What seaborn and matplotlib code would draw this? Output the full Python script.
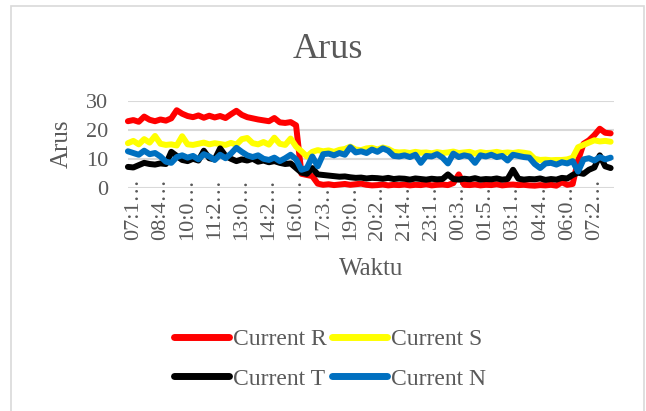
import numpy as np
import pandas as pd
import seaborn as sns
import matplotlib.pyplot as plt
from matplotlib.patches import Rectangle

# values (one sample every ~17 min, 07:15 -> 07:40 next day)
current_r = [23.0, 23.4, 22.8, 24.6, 23.5, 23.0, 23.6, 23.2, 24.0, 26.8,
             25.6, 24.8, 24.4, 25.0, 24.2, 24.9, 24.3, 24.8, 24.1, 25.4,
             26.6, 25.2, 24.4, 24.0, 23.6, 23.3, 23.0, 24.1, 22.6, 22.4,
             22.7, 21.6, 4.8, 4.4, 4.0, 1.4, 1.0, 1.2, 0.9, 1.1,
             1.3, 1.0, 1.2, 1.4, 1.0, 0.8, 0.9, 1.1, 0.8, 1.0,
             0.9, 1.1, 0.8, 1.0, 0.9, 1.2, 0.8, 1.0, 1.1, 0.9,
             1.6, 4.6, 1.0, 0.9, 1.1, 0.8, 1.0, 0.9, 1.2, 0.8,
             1.0, 1.1, 0.9, 1.0, 0.8, 0.7, 0.9, 0.8, 1.0, 0.7,
             1.9, 1.0, 1.3, 9.5, 15.2, 16.4, 18.2, 20.4, 19.0, 18.8]
current_s = [15.4, 16.2, 15.0, 16.8, 15.6, 17.9, 15.2, 14.8, 15.0, 14.6,
             17.8, 15.0, 14.8, 15.2, 15.6, 15.0, 15.4, 15.1, 14.8, 15.5,
             14.9, 16.8, 17.2, 15.4, 15.0, 15.8, 14.9, 17.3, 15.2, 14.8,
             17.0, 14.2, 12.6, 10.8, 12.4, 13.0, 12.6, 12.9, 12.4, 13.1,
             13.4, 14.2, 13.2, 13.0, 13.6, 13.8, 13.2, 13.9, 13.4, 12.4,
             12.2, 12.3, 12.0, 12.4, 12.1, 12.2, 11.9, 12.3, 12.0, 12.2,
             12.5, 12.0, 12.2, 12.4, 11.8, 12.3, 12.0, 12.1, 12.4, 12.0,
             12.2, 12.0, 12.3, 12.1, 11.8, 10.0, 9.6, 9.7, 9.5, 9.6,
             9.6, 9.8, 10.4, 14.0, 14.8, 15.6, 16.4, 16.0, 16.2, 15.9]
current_t = [7.2, 7.0, 7.8, 8.6, 8.2, 8.0, 8.4, 8.2, 12.4, 11.0,
             9.6, 9.2, 10.0, 9.4, 12.8, 10.2, 9.8, 13.6, 11.0, 10.0,
             9.2, 9.8, 9.4, 10.0, 9.0, 9.4, 8.8, 9.2, 8.6, 8.2,
             8.4, 6.8, 5.2, 4.8, 6.8, 4.6, 4.4, 4.2, 4.0, 3.8,
             3.9, 3.6, 3.4, 3.5, 3.2, 3.4, 3.3, 3.1, 3.4, 3.0,
             3.2, 3.1, 2.8, 3.2, 3.0, 2.8, 3.1, 2.9, 3.0, 4.6,
             3.0, 2.8, 3.1, 2.9, 3.3, 2.8, 3.0, 2.9, 3.2, 2.8,
             3.0, 6.2, 3.1, 2.8, 3.0, 2.9, 3.2, 2.7, 3.0, 2.8,
             3.4, 3.2, 4.4, 5.2, 4.8, 6.2, 7.0, 11.2, 7.4, 6.8]
current_n = [12.6, 12.0, 11.4, 12.8, 11.6, 12.0, 10.8, 9.0, 8.6, 10.6,
             11.2, 10.4, 11.0, 9.8, 11.6, 10.8, 9.6, 11.4, 10.2, 11.8,
             13.8, 12.4, 11.2, 10.6, 11.2, 10.0, 9.6, 10.4, 9.2, 10.2,
             11.4, 9.8, 6.2, 6.8, 10.8, 7.4, 11.6, 11.8, 11.2, 12.0,
             11.4, 14.0, 12.2, 12.6, 12.0, 13.2, 12.4, 13.6, 12.8, 11.0,
             10.8, 11.2, 10.6, 11.4, 8.6, 11.0, 10.8, 11.6, 10.4, 8.4,
             11.8, 10.6, 11.2, 10.8, 8.6, 11.2, 10.8, 11.4, 10.6, 11.0,
             9.4, 11.4, 11.0, 10.6, 10.4, 8.2, 6.8, 8.4, 8.6, 8.0,
             8.8, 8.4, 9.2, 5.6, 9.8, 10.2, 9.4, 10.6, 9.8, 10.4]

tick_labels = ["07:1…", "08:4…", "10:0…", "11:2…", "13:0…", "14:2…",
               "16:0…", "17:3…", "19:0…", "20:2…", "21:4…", "23:1…",
               "00:3…", "01:5…", "03:1…", "04:4…", "06:0…", "07:2…"]

series_names = ["Current R", "Current S", "Current T", "Current N"]
colors = ["#FF0000", "#FFFF00", "#000000", "#0070C0"]

df = pd.DataFrame({
    "idx": np.arange(len(current_r)),
    "Current R": current_r,
    "Current S": current_s,
    "Current T": current_t,
    "Current N": current_n,
}).melt(id_vars="idx", var_name="series", value_name="Arus")

sns.set_style("white")
plt.rcParams["font.family"] = ["Liberation Serif", "DejaVu Serif"]
grey = "#595959"

fig = plt.figure(figsize=(6.46, 4.11), dpi=100)
ax = fig.add_axes([0.198, 0.5433, 0.7523, 0.211])

sns.lineplot(data=df, x="idx", y="Arus", hue="series", hue_order=series_names,
             palette=colors, linewidth=4.3, ax=ax, sort=False)
for ln in ax.get_lines():
    ln.set_solid_capstyle("round")
    ln.set_solid_joinstyle("round")
    ln.set_clip_on(False)

handles, labels = ax.get_legend_handles_labels()
ax.get_legend().remove()

ax.set_xlim(0, 89.6)
ax.set_ylim(0, 30)
ax.set_yticks([0, 10, 20, 30])
ax.set_xticks(np.arange(len(tick_labels)) * 5 + 1)
ax.set_xticklabels(tick_labels, rotation=90, va="top", ha="center")
ax.yaxis.grid(True, color="#D9D9D9", linewidth=1.5)
ax.set_axisbelow(True)
for s in ax.spines.values():
    s.set_visible(False)
ax.tick_params(axis="x", length=0, pad=-7, labelsize=16, labelcolor=grey)
ax.tick_params(axis="y", length=0, pad=14, labelsize=16, labelcolor=grey)
ax.set_xlabel("")
ax.set_ylabel("")

fig.text(0.508, 1 - 50 / 411, "Arus", ha="center", va="center", fontsize=26, color=grey)
fig.text(371 / 646, 1 - 269 / 411, "Waktu", ha="center", va="center", fontsize=18, color=grey)
fig.text(62 / 646, 1 - 144 / 411, "Arus", ha="center", va="center", rotation=90,
         fontsize=18, color=grey)

# legend fills column-wise, so reorder to get R S / T N rows
order = [0, 2, 1, 3]
leg = fig.legend([handles[i] for i in order], [labels[i] for i in order],
                 ncol=2, loc="center",
                 bbox_to_anchor=(330 / 646, 1 - 359 / 411), frameon=False,
                 fontsize=17, handlelength=2.3, handletextpad=0.17,
                 columnspacing=0.25, labelspacing=0.78, borderpad=0)
for t in leg.get_texts():
    t.set_color(grey)
for h in leg.legend_handles:
    h.set_linewidth(5)
    h.set_solid_capstyle("round")

fig.patches.append(Rectangle((11 / 646, -0.01), 633 / 646, 1 - 6 / 411 + 0.01,
                             transform=fig.transFigure, fill=False,
                             edgecolor="#D9D9D9", linewidth=1.2))

fig.savefig("out.png", dpi=100)
